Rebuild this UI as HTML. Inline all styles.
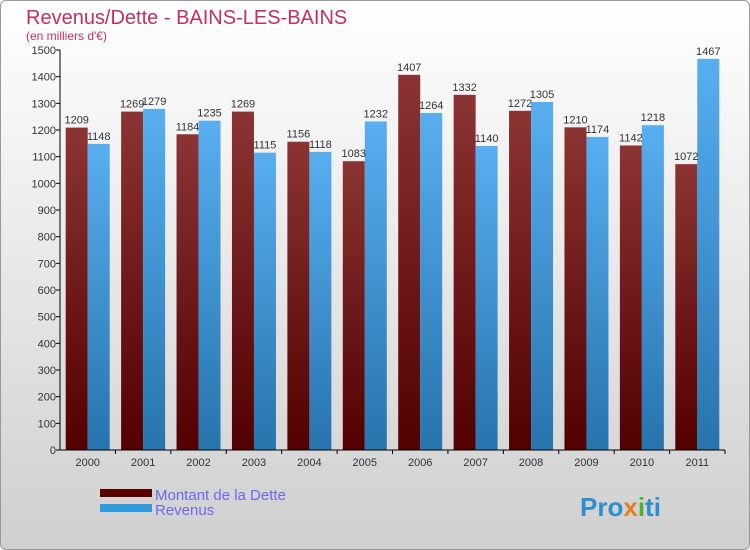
<!DOCTYPE html>
<html><head><meta charset="utf-8"><style>
body{margin:0;width:750px;height:550px;overflow:hidden;font-family:"Liberation Sans",sans-serif}
#wrap{position:absolute;left:0;top:0;width:748px;height:548px;border:1px solid #999;border-radius:6px;background:linear-gradient(#ffffff,#cfcfcf)}
</style></head><body>
<div id="wrap"></div>
<svg id="chart" width="750" height="550" style="position:absolute;left:0;top:0">
<defs>
<linearGradient id="gd" x1="0" y1="1" x2="0" y2="0"><stop offset="0" stop-color="#520000"/><stop offset="1" stop-color="#8c3434"/></linearGradient>
<linearGradient id="gr" x1="0" y1="1" x2="0" y2="0"><stop offset="0" stop-color="#2774ad"/><stop offset="1" stop-color="#58aef0"/></linearGradient>
</defs>
<text x="26" y="24" font-size="20" fill="#c0305f">Revenus/Dette - BAINS-LES-BAINS</text>
<text x="26" y="40" font-size="12" fill="#c0305f">(en milliers d'€)</text>
<g id="plot"></g>
<rect x="100" y="489" width="52" height="8" fill="#5a0000"/>
<text x="155" y="500" font-size="15" fill="#6a6af0">Montant de la Dette</text>
<rect x="100" y="504" width="52" height="8" fill="#3399dd"/>
<text x="155" y="515" font-size="15" fill="#6a6af0">Revenus</text>
<text x="580" y="516" font-size="26" font-weight="bold" fill="#2d8fd0">Pro<tspan fill="#e08020">x</tspan><tspan fill="#50b030">i</tspan>ti</text>
</svg>
<script>
const years=["2000","2001","2002","2003","2004","2005","2006","2007","2008","2009","2010","2011"];
const dette=[1209,1269,1184,1269,1156,1083,1407,1332,1272,1210,1142,1072];
const revenus=[1148,1279,1235,1115,1118,1232,1264,1140,1305,1174,1218,1467];
const yTicks=[0,100,200,300,400,500,600,700,800,900,1000,1100,1200,1300,1400,1500];
const NS="http://www.w3.org/2000/svg";
const g=document.getElementById('plot');
const x0=60,x1=725,y0=450,yTop=50,vMax=1500;
const y=v=>y0-(v/vMax)*(y0-yTop);
const step=(x1-x0)/years.length;
function mk(t,a,txt){const e=document.createElementNS(NS,t);for(const k in a)e.setAttribute(k,a[k]);if(txt!==undefined)e.textContent=txt;g.appendChild(e);return e;}
yTicks.forEach(v=>{
const l=mk('line',{x1:x0-4,x2:x0,y1:y(v),y2:y(v),stroke:'#000'});


const t=mk('text',{x:x0-4,y:y(v)+4,'font-size':11,'text-anchor':'end',fill:'#333'},v);


});
years.forEach((yr,i)=>{
const c=x0+step*(i+0.5);
const bw=22;
const r1=mk('rect',{x:c-bw,y:y(dette[i]),width:bw,height:y0-y(dette[i]),fill:'url(#gd)'});


const r2=mk('rect',{x:c,y:y(revenus[i]),width:bw,height:y0-y(revenus[i]),fill:'url(#gr)'});


const t1=mk('text',{x:c-bw/2,y:y(dette[i])-4,'font-size':11,'text-anchor':'middle',fill:'#333'},dette[i]);


const t2=mk('text',{x:c+bw/2,y:y(revenus[i])-4,'font-size':11,'text-anchor':'middle',fill:'#333'},revenus[i]);


const tk=mk('line',{x1:x0+step*(i+1),x2:x0+step*(i+1),y1:y0,y2:y0+4,stroke:'#000'});


const xl=mk('text',{x:c,y:y0+16,'font-size':11,'text-anchor':'middle',fill:'#333'},yr);


});
const ya=mk('line',{x1:x0,x2:x0,y1:yTop,y2:y0,stroke:'#000'});


const xa=mk('line',{x1:x0,x2:x1,y1:y0,y2:y0,stroke:'#000'});


</script>
</body></html>
